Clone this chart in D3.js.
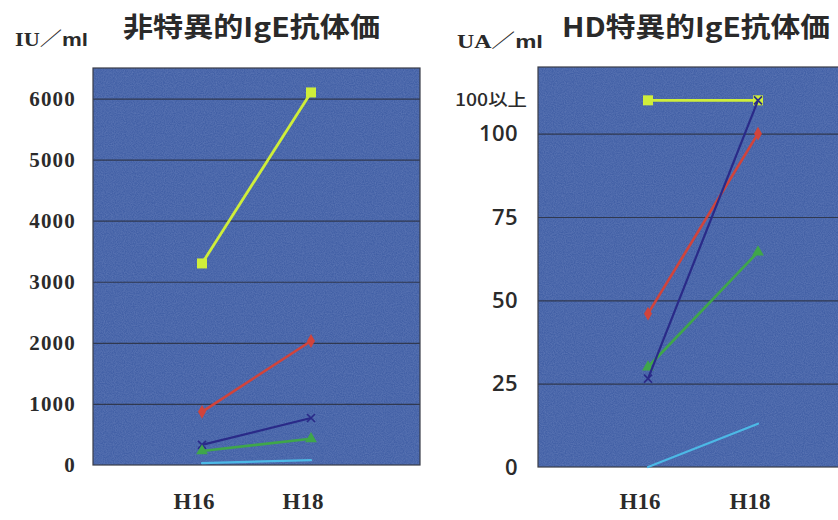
<!DOCTYPE html>
<html>
<head>
<meta charset="utf-8">
<script src="https://cdn.jsdelivr.net/npm/d3@7"></script>
<style>
  html, body { margin: 0; padding: 0; background: #ffffff; }
  svg { display: block; }
</style>
</head>
<body>
<svg id="chart" width="838" height="520"></svg>
<script>
// ---------------- DATA ----------------
const categories = ["H16", "H18"];
const seriesNames = ["yellow", "red", "navy", "green", "cyan"];

// 非特異的IgE抗体価 (IU/ml)
const totalIgE_yellow = [3300, 6100];
const totalIgE_red    = [870, 2030];
const totalIgE_navy   = [330, 770];
const totalIgE_green  = [230, 430];
const totalIgE_cyan   = [30, 80];

// HD特異的IgE抗体価 (UA/ml) — 110 = "100以上"
const hdIgE_yellow = [110, 110];
const hdIgE_red    = [46, 100];
const hdIgE_navy   = [26.5, 110];
const hdIgE_green  = [30, 64.5];
const hdIgE_cyan   = [0, 13];

const leftTicks  = [0, 1000, 2000, 3000, 4000, 5000, 6000];
const rightTicks = [0, 25, 50, 75, 100];
const rightCapValue = 110;
const rightCapLabel = "100以上";

const leftTitle  = "非特異的IgE抗体価";
const rightTitle = "HD特異的IgE抗体価";

// ---------------- STYLES ----------------
const styles = {
  yellow: { color: "#cfee3a", width: 2.8, marker: "square" },
  red:    { color: "#d0443c", width: 2.6, marker: "diamond" },
  navy:   { color: "#2a2a88", width: 2.2, marker: "cross" },
  green:  { color: "#3fa64a", width: 2.6, marker: "triangle" },
  cyan:   { color: "#4cb9e6", width: 2.2, marker: "none" }
};
const plotFill = "#4260a6";
const gridColor = "#2b3040";

const svg = d3.select("#chart");

// subtle grain texture for plot area
const defs = svg.append("defs");
const filt = defs.append("filter").attr("id", "grain").attr("x", 0).attr("y", 0).attr("width", 1).attr("height", 1);
filt.append("feTurbulence").attr("type", "fractalNoise").attr("baseFrequency", 0.9).attr("numOctaves", 2).attr("seed", 3).attr("result", "n");
filt.append("feColorMatrix").attr("in", "n").attr("type", "matrix")
  .attr("values", "0 0 0 0 0.55  0 0 0 0 0.62  0 0 0 0 0.85  0 0 0 0.55 -0.12");

function drawPanel(opts) {
  const { x0, x1, y0, y1, yDomain, ticks, series, tickFont, tickPad } = opts;
  const g = svg.append("g");
  const x = d3.scaleLinear().domain([0, categories.length + 1]).range([x0, x1]);
  const y = d3.scaleLinear().domain(yDomain).range([y1, y0]);

  // background
  g.append("rect").attr("x", x0).attr("y", y0).attr("width", x1 - x0).attr("height", y1 - y0)
    .attr("fill", plotFill);
  g.append("rect").attr("x", x0).attr("y", y0).attr("width", x1 - x0).attr("height", y1 - y0)
    .attr("fill", "#fff").attr("filter", "url(#grain)").attr("opacity", 0.5);

  // gridlines
  const grid = g.append("g").attr("transform", `translate(${x0},0)`)
    .call(d3.axisLeft(y).tickValues(ticks.filter(t => t > 0)).tickSize(-(x1 - x0)).tickFormat(""));
  grid.select(".domain").remove();
  grid.selectAll(".tick line").attr("stroke", gridColor).attr("stroke-width", 1.2).attr("opacity", 0.85);

  // frame
  g.append("rect").attr("x", x0).attr("y", y0).attr("width", x1 - x0).attr("height", y1 - y0)
    .attr("fill", "none").attr("stroke", "#3a3d48").attr("stroke-width", 1.2);

  // y tick labels
  const ax = g.append("g").attr("transform", `translate(${x0},0)`)
    .call(d3.axisLeft(y).tickValues(ticks).tickSize(0).tickPadding(tickPad).tickFormat(d3.format("d")));
  ax.select(".domain").remove();
  ax.selectAll("text")
    .attr("fill", "#2b2b2b")
    .attr("font-family", tickFont.family)
    .attr("font-size", tickFont.size)
    .attr("font-weight", tickFont.weight)
    .attr("letter-spacing", tickFont.spacing);

  // x labels
  g.selectAll(".xlab").data(categories).enter().append("text")
    .attr("x", (d, i) => x(i + 1) - 8)
    .attr("y", 509)
    .attr("text-anchor", "middle")
    .attr("font-family", "'Liberation Serif', 'Times New Roman', serif")
    .attr("font-weight", "bold")
    .attr("font-size", 23)
    .attr("fill", "#2b2b2b")
    .text(d => d);

  // series
  const line = d3.line().x((d, i) => x(i + 1)).y(d => y(d));
  series.forEach(s => {
    const st = styles[s.name];
    g.append("path").datum(s.values).attr("d", line)
      .attr("fill", "none").attr("stroke", st.color).attr("stroke-width", st.width)
      .attr("stroke-linecap", "round");
    s.values.forEach((v, i) => {
      const cx = x(i + 1), cy = y(v);
      if (st.marker === "square") {
        g.append("rect").attr("x", cx - 5).attr("y", cy - 5).attr("width", 10).attr("height", 10).attr("fill", st.color);
      } else if (st.marker === "diamond") {
        g.append("path").attr("d", d3.symbol(d3.symbolDiamond, 55)()).attr("transform", `translate(${cx},${cy})`).attr("fill", st.color);
      } else if (st.marker === "triangle") {
        g.append("path").attr("d", d3.symbol(d3.symbolTriangle, 60)()).attr("transform", `translate(${cx},${cy})`).attr("fill", st.color);
      } else if (st.marker === "cross") {
        g.append("path").attr("d", `M${cx - 4},${cy - 4}L${cx + 4},${cy + 4}M${cx - 4},${cy + 4}L${cx + 4},${cy - 4}`)
          .attr("stroke", st.color).attr("stroke-width", 1.6).attr("fill", "none");
      }
    });
  });
  return { x, y, g };
}

// ---------------- LEFT PANEL ----------------
const leftSeriesData = [
  { name: "yellow", values: totalIgE_yellow },
  { name: "red",    values: totalIgE_red },
  { name: "navy",   values: totalIgE_navy },
  { name: "green",  values: totalIgE_green },
  { name: "cyan",   values: totalIgE_cyan }
];
drawPanel({
  x0: 93, x1: 420, y0: 68, y1: 465,
  yDomain: [0, 6500], ticks: leftTicks, series: leftSeriesData,
  tickFont: { family: "'Liberation Serif', 'Times New Roman', serif", size: 21, weight: "bold", spacing: 1.2 },
  tickPad: 17
});

// ---------------- RIGHT PANEL ----------------
const rightSeriesData = [
  { name: "yellow", values: hdIgE_yellow },
  { name: "red",    values: hdIgE_red },
  { name: "green",  values: hdIgE_green },
  { name: "cyan",   values: hdIgE_cyan },
  { name: "navy",   values: hdIgE_navy }
];
const right = drawPanel({
  x0: 538, x1: 868, y0: 67, y1: 467,
  yDomain: [0, 120], ticks: rightTicks, series: rightSeriesData,
  tickFont: { family: "'Open Sans', 'Liberation Sans', sans-serif", size: 22, weight: 600, spacing: 0.4 },
  tickPad: 20
});
svg.append("text")
  .attr("x", 527).attr("y", right.y(rightCapValue))
  .attr("dy", "0.35em")
  .attr("text-anchor", "end")
  .attr("font-family", "'Noto Sans CJK JP', 'Liberation Sans', sans-serif")
  .attr("font-size", 17)
  .attr("font-weight", 500)
  .attr("fill", "#2b2b2b")
  .attr("textLength", 72).attr("lengthAdjust", "spacingAndGlyphs")
  .text(rightCapLabel);

// ---------------- TITLES & UNITS ----------------
svg.append("text")
  .attr("x", 123).attr("y", 37)
  .attr("font-family", "'Noto Sans CJK JP', sans-serif")
  .attr("font-weight", "bold").attr("font-size", 27).attr("fill", "#2a2a2a")
  .attr("textLength", 257).attr("lengthAdjust", "spacingAndGlyphs")
  .text(leftTitle);
svg.append("text")
  .attr("x", 562).attr("y", 37)
  .attr("font-family", "'Noto Sans CJK JP', sans-serif")
  .attr("font-weight", "bold").attr("font-size", 27).attr("fill", "#2a2a2a")
  .attr("textLength", 268).attr("lengthAdjust", "spacingAndGlyphs")
  .text(rightTitle);

function unitLabel(xPos, yPos, lead, len) {
  const t = svg.append("text").attr("x", xPos).attr("y", yPos).attr("fill", "#2a2a2a")
    .attr("textLength", len).attr("lengthAdjust", "spacingAndGlyphs").attr("font-size", 19);
  t.append("tspan").attr("font-family", "'Liberation Serif', serif").attr("font-weight", "bold").text(lead);
  t.append("tspan").attr("font-family", "'Noto Sans CJK JP', sans-serif").attr("font-weight", "normal").text("／");
  t.append("tspan").attr("font-family", "'Liberation Sans', sans-serif").attr("font-weight", "bold").text("ml");
}
unitLabel(15, 46, "IU", 73);
unitLabel(457, 48, "UA", 86);
</script>
</body>
</html>
